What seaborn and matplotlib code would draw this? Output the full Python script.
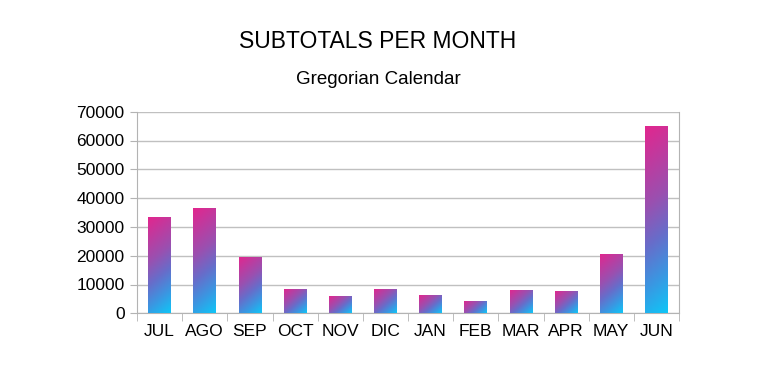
import matplotlib
matplotlib.use("Agg")
import matplotlib.pyplot as plt
import numpy as np
import pandas as pd
import seaborn as sns
from matplotlib.colors import LinearSegmentedColormap

months = ["JUL", "AGO", "SEP", "OCT", "NOV", "DIC", "JAN", "FEB", "MAR", "APR", "MAY", "JUN"]
subtotals = [33300, 36400, 19600, 8450, 5900, 8450, 6250, 4200, 8000, 7750, 20600, 65100]
y_ticks = [0, 10000, 20000, 30000, 40000, 50000, 60000, 70000]

sns.set_style("white")
plt.rcParams["font.family"] = ["Liberation Sans", "DejaVu Sans"]
plt.rcParams["text.color"] = "black"
plt.rcParams["xtick.color"] = "black"
plt.rcParams["ytick.color"] = "black"

df = pd.DataFrame({"month": months, "subtotal": subtotals})

fig = plt.figure(figsize=(7.74, 3.88), dpi=100)
ax = fig.add_axes([137 / 774, 1 - 313.3 / 388, (679 - 137) / 774, (313.3 - 111.7) / 388])

sns.barplot(data=df, x="month", y="subtotal", ax=ax, width=0.5, color="#7a6cc8",
            linewidth=0, zorder=2)

# angled gradient (pink top-left -> cyan bottom-right), in screen pixels per bar
cmap = LinearSegmentedColormap.from_list(
    "pc", [(0, "#e2268e"), (0.4, "#9a50b0"), (0.6, "#676dca"), (0.8, "#3a97e2"), (1, "#0fc6f7")])
theta = np.deg2rad(40)
px_per_unit = 201.6 / 70000
for bar in ax.patches:
    x0, y0 = bar.get_x(), bar.get_y()
    w, h = bar.get_width(), bar.get_height()
    wp, hp = 22.3, h * px_per_unit
    u, v = np.meshgrid(np.linspace(0, 1, 60), np.linspace(0, 1, 200))
    t = (u * wp * np.sin(theta) + v * hp * np.cos(theta)) / (wp * np.sin(theta) + hp * np.cos(theta))
    im = ax.imshow(t, cmap=cmap, vmin=0, vmax=1, extent=[x0, x0 + w, y0, y0 + h],
                   origin="upper", aspect="auto", zorder=3)
    im.set_clip_path(bar)

ax.set_xlim(-0.5, len(months) - 0.5)
ax.set_ylim(0, 70000)
ax.set_yticks(y_ticks)
ax.set_yticklabels([str(t) for t in y_ticks], fontsize=12.5)
ax.set_xticks(range(len(months)))
ax.set_xticklabels(months, fontsize=12.5)
ax.set_xlabel("")
ax.set_ylabel("")

ax.grid(axis="y", color="#c0c0c0", linewidth=1, zorder=0)
for side in ["left", "right", "bottom", "top"]:
    ax.spines[side].set_visible(True)
    ax.spines[side].set_color("#b3b3b3")
ax.spines["top"].set_visible(False)

ax.tick_params(axis="x", length=0, pad=8)
ax.tick_params(axis="y", length=5, color="#b3b3b3", labelcolor="black", left=True, pad=4)
ax.set_xticks(np.arange(-0.5, len(months), 1), minor=True)
ax.tick_params(axis="x", which="minor", length=6, color="#b3b3b3", bottom=True)

fig.text(378 / 774, 1 - 41 / 388, "SUBTOTALS PER MONTH", ha="center", va="center", fontsize=16.5)
fig.text(378 / 774, 1 - 80 / 388, "Gregorian Calendar", ha="center", va="center", fontsize=13.5)

fig.savefig("out.png", dpi=100)
